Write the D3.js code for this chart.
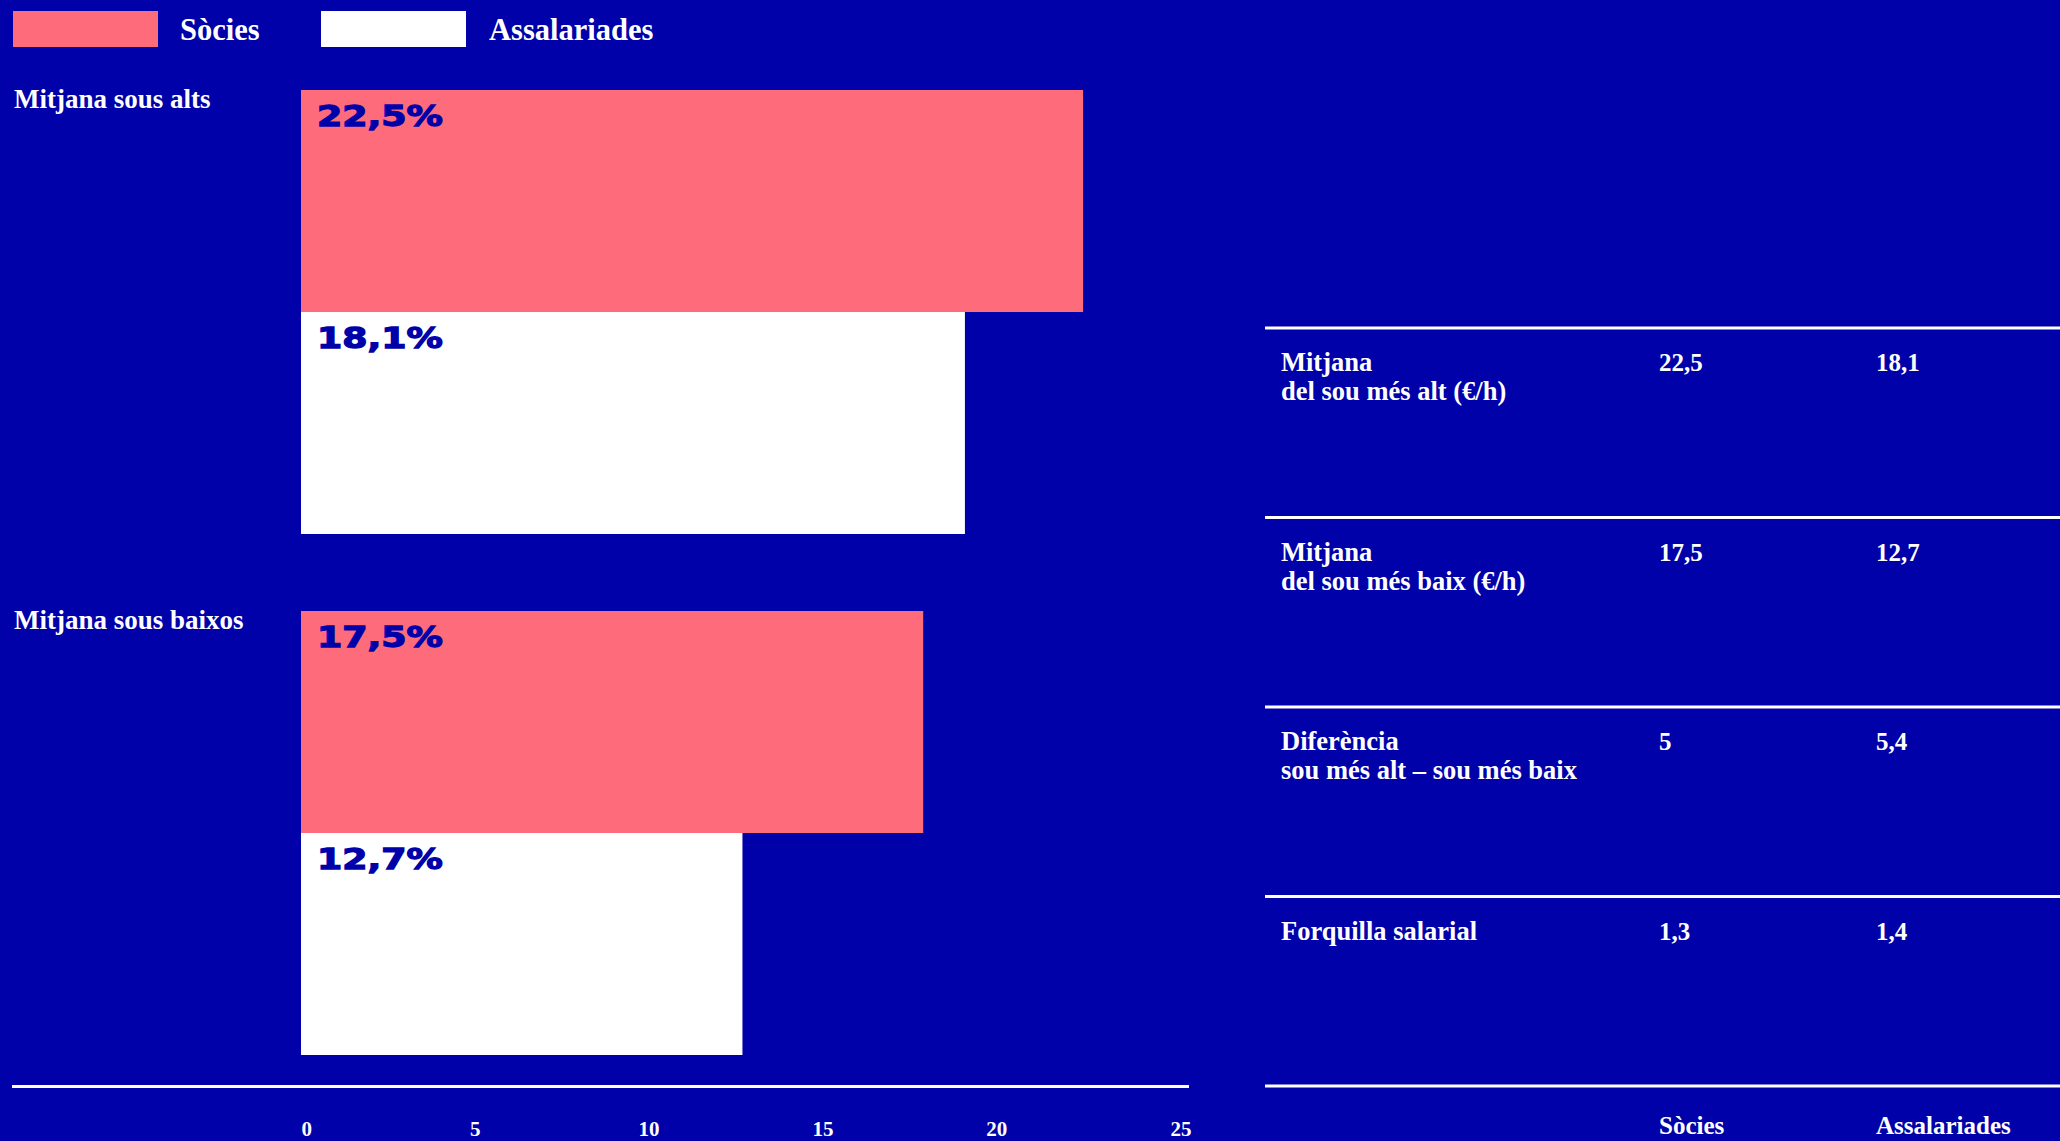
<!DOCTYPE html>
<html>
<head>
<meta charset="utf-8">
<script src="https://cdn.jsdelivr.net/npm/d3@7"></script>
<style>
  html, body { margin: 0; padding: 0; background: #0101A9; overflow: hidden; }
  svg { display: block; }
</style>
</head>
<body>
<svg id="chart" width="2060" height="1141"></svg>
<script>
// ---------- data ----------
const categories = ["Mitjana sous alts", "Mitjana sous baixos"];
const seriesNames = ["Sòcies", "Assalariades"];
// value labels shown in the bars
const sociesValues = [22.5, 17.5];
const assalariadesValues = [18.1, 12.7];
// bar lengths as drawn in the picture
const sociesBars = [22.5, 17.9];
const assalariadesBars = [19.1, 12.7];
const xTicks = [0, 5, 10, 15, 20, 25];

const tableRows = [
  ["Mitjana", "del sou més alt (€/h)"],
  ["Mitjana", "del sou més baix (€/h)"],
  ["Diferència", "sou més alt – sou més baix"],
  ["Forquilla salarial"]
];
const tableSocies = [22.5, 17.5, 5, 1.3];
const tableAssalariades = [18.1, 12.7, 5.4, 1.4];

// ---------- style ----------
const BG = "#0101A9";
const PINK = "#FE6B7B";
const WHITE = "#FFFFFF";
const SERIF = "'Liberation Serif', 'Times New Roman', serif";
const colors = [PINK, WHITE];

const locale = d3.formatLocale({decimal: ",", thousands: ".", grouping: [3], currency: ["", "€"]});
const fmt = locale.format("~g");

const svg = d3.select("#chart");
svg.append("rect").attr("width", 2060).attr("height", 1141).attr("fill", BG);

// ---------- scales ----------
const x = d3.scaleLinear().domain([0, 25]).range([301, 1170]);
const y0 = d3.scaleBand().domain(categories).range([90, 1055]).paddingInner(77 / 521);
const y1 = d3.scaleBand().domain(seriesNames).range([0, y0.bandwidth()]);

// ---------- legend ----------
const legendX = [13, 321];
const legendTextX = [180, 489];
seriesNames.forEach((s, i) => {
  svg.append("rect").attr("x", legendX[i]).attr("y", 11).attr("width", 145).attr("height", 36).attr("fill", colors[i]);
  svg.append("text").attr("x", legendTextX[i]).attr("y", 40)
    .attr("font-family", SERIF).attr("font-weight", "bold").attr("font-size", 30.5)
    .attr("fill", WHITE).text(s);
});

// ---------- bars ----------
const rows = categories.map((c, i) => ({
  cat: c,
  bars: [
    {s: seriesNames[0], len: sociesBars[i], v: sociesValues[i]},
    {s: seriesNames[1], len: assalariadesBars[i], v: assalariadesValues[i]}
  ]
}));

const g = svg.selectAll("g.group").data(rows).join("g")
  .attr("class", "group")
  .attr("transform", d => `translate(0,${y0(d.cat)})`);

g.append("text")
  .attr("x", 14).attr("y", 18)
  .attr("font-family", SERIF).attr("font-weight", "bold").attr("font-size", 27)
  .attr("fill", WHITE).text(d => d.cat);

g.selectAll("rect.bar").data(d => d.bars.slice().reverse()).join("rect")
  .attr("class", "bar")
  .attr("x", x(0))
  .attr("y", d => y1(d.s))
  .attr("width", d => x(d.len) - x(0))
  .attr("height", y1.bandwidth())
  .attr("fill", d => colors[seriesNames.indexOf(d.s)]);

g.selectAll("g.vlabel").data(d => d.bars).join("g")
  .attr("class", "vlabel")
  .attr("transform", d => `translate(${x(0) + 16},${y1(d.s) + 36})`)
  .append("text")
  .attr("transform", "scale(1.25,1)")
  .attr("font-family", "'DejaVu Sans', sans-serif").attr("font-weight", "bold").attr("font-size", 29)
  .attr("fill", BG).attr("stroke", BG).attr("stroke-width", 1.3)
  .text(d => fmt(d.v) + "%");

// ---------- x axis ----------
svg.append("rect").attr("x", 12).attr("y", 1085).attr("width", 1177).attr("height", 3).attr("fill", WHITE);

const axis = d3.axisBottom(x).tickValues(xTicks).tickSize(0).tickFormat(d3.format("d"));
const ag = svg.append("g").attr("transform", "translate(0,1120)").call(axis);
ag.select(".domain").remove();
ag.selectAll("text")
  .attr("text-anchor", (d, i) => (i === 0 || i === xTicks.length - 1) ? "start" : "middle")
  .attr("dy", 0).attr("y", 16)
  .attr("font-family", SERIF).attr("font-weight", "bold").attr("font-size", 21)
  .attr("fill", WHITE);

// ---------- table ----------
const tLeft = 1265, tRight = 2060;
const rowY = d3.scaleBand().domain(d3.range(tableRows.length)).range([328, 1086]);
const colX = [1281, 1659, 1876];

svg.selectAll("rect.tline").data(d3.range(tableRows.length + 1)).join("rect")
  .attr("class", "tline")
  .attr("x", tLeft).attr("width", tRight - tLeft)
  .attr("y", i => (i < tableRows.length ? rowY(i) : 1086) - 1.5)
  .attr("height", 3).attr("fill", WHITE);

const tr = svg.selectAll("g.trow").data(tableRows.map((r, i) => ({r, i}))).join("g")
  .attr("class", "trow")
  .attr("transform", d => `translate(0,${rowY(d.i) + 43})`);

tr.each(function(d) {
  const sel = d3.select(this);
  const t = sel.append("text").attr("x", colX[0])
    .attr("font-family", SERIF).attr("font-weight", "bold").attr("font-size", 26.5).attr("fill", WHITE);
  d.r.forEach((line, k) => {
    t.append("tspan").attr("x", colX[0]).attr("y", k * 29).text(line);
  });
  sel.append("text").attr("x", colX[1]).attr("y", 0)
    .attr("font-family", SERIF).attr("font-weight", "bold").attr("font-size", 25).attr("fill", WHITE)
    .text(fmt(tableSocies[d.i]));
  sel.append("text").attr("x", colX[2]).attr("y", 0)
    .attr("font-family", SERIF).attr("font-weight", "bold").attr("font-size", 25).attr("fill", WHITE)
    .text(fmt(tableAssalariades[d.i]));
});

svg.selectAll("text.thead").data(seriesNames).join("text")
  .attr("class", "thead")
  .attr("x", (d, i) => colX[i + 1]).attr("y", 1134)
  .attr("font-family", SERIF).attr("font-weight", "bold").attr("font-size", 25)
  .attr("fill", WHITE).text(d => d);
</script>
</body>
</html>
